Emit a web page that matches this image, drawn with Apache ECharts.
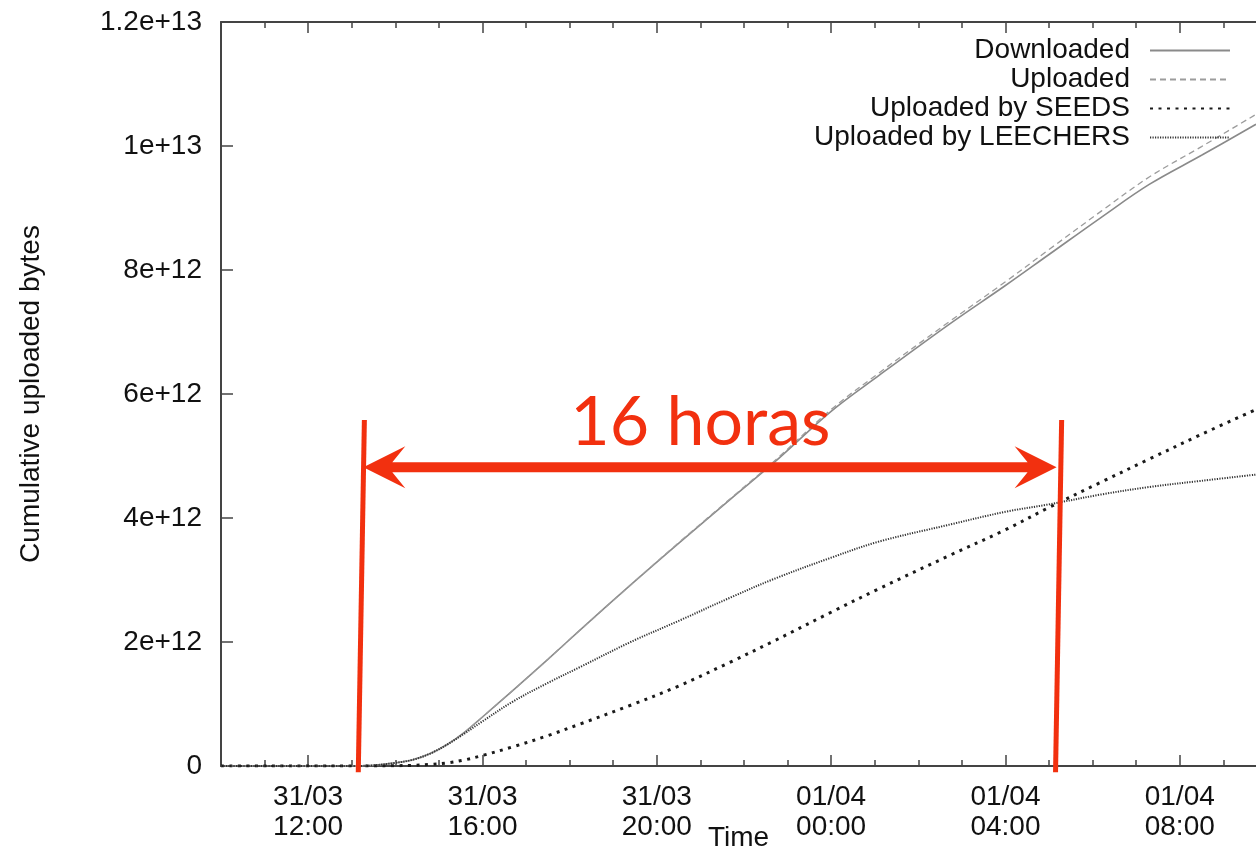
<!DOCTYPE html>
<html>
<head>
<meta charset="utf-8">
<title>Cumulative uploaded bytes</title>
<script src="https://cdn.jsdelivr.net/npm/echarts@6/dist/echarts.min.js"></script>
<style>
  html, body { margin: 0; padding: 0; background: #ffffff; }
  #chart { width: 1256px; height: 852px; }
</style>
</head>
<body>
<div id="chart"></div>
<script>
// Time is measured in hours since 31/03 00:00.
const hours = [10, 13, 13.5, 14, 14.4, 14.8, 15.2, 15.6, 16, 16.7, 17.5, 18.25, 19.4,
  20.5, 21.7, 22.7, 24, 25.1, 26.7, 28, 29, 30.2, 31.3, 32.5, 33.75];

// Cumulative bytes per series
const downloaded = [0, 0, 0.01e12, 0.05e12, 0.1e12, 0.2e12, 0.35e12, 0.55e12, 0.79e12, 1.22e12,
  1.72e12, 2.2e12, 2.92e12, 3.59e12, 4.31e12, 4.9e12, 5.72e12, 6.3e12, 7.12e12, 7.75e12,
  8.25e12, 8.85e12, 9.38e12, 9.85e12, 10.35e12];
const uploaded = [0, 0, 0.01e12, 0.05e12, 0.1e12, 0.2e12, 0.35e12, 0.55e12, 0.79e12, 1.22e12,
  1.72e12, 2.2e12, 2.92e12, 3.6e12, 4.32e12, 4.92e12, 5.75e12, 6.34e12, 7.16e12, 7.81e12,
  8.33e12, 8.95e12, 9.5e12, 9.99e12, 10.51e12];
const uploadedBySeeds = [0, 0, 0, 0.005e12, 0.01e12, 0.025e12, 0.05e12, 0.1e12, 0.17e12, 0.31e12,
  0.49e12, 0.68e12, 0.98e12, 1.29e12, 1.68e12, 2.02e12, 2.48e12, 2.86e12, 3.39e12, 3.81e12,
  4.17e12, 4.58e12, 4.95e12, 5.35e12, 5.75e12];
const uploadedByLeechers = [0, 0, 0.01e12, 0.05e12, 0.1e12, 0.2e12, 0.35e12, 0.53e12, 0.72e12, 1.04e12,
  1.34e12, 1.6e12, 2.0e12, 2.34e12, 2.72e12, 3.02e12, 3.36e12, 3.62e12, 3.89e12, 4.1e12,
  4.22e12, 4.38e12, 4.5e12, 4.6e12, 4.7e12];

const seriesNames = ['Downloaded', 'Uploaded', 'Uploaded by SEEDS', 'Uploaded by LEECHERS'];

// Axis ticks and labels
const xMin = 10, xMax = 33.75;
const majorHours = [12, 16, 20, 24, 28, 32];
const xTickLabels = ['31/03\n12:00', '31/03\n16:00', '31/03\n20:00', '01/04\n00:00', '01/04\n04:00', '01/04\n08:00'];
const minorHours = [11, 13, 14, 15, 17, 18, 19, 21, 22, 23, 25, 26, 27, 29, 30, 31, 33];
const yTickValues = [0, 2e12, 4e12, 6e12, 8e12, 1e13, 1.2e13];
const yTickLabels = ['0', '2e+12', '4e+12', '6e+12', '8e+12', '1e+13', '1.2e+13'];

// Annotation: span between two moments, in hours
const spanStart = 13.22;
const spanHours = 16;
const spanTopValue = 5.58e12;
const spanBottomValue = -0.1e12;
const spanArrowValue = 4.82e12;
const spanLabelHour = 21.0;

const FONT = '"Liberation Sans", Arial, Helvetica, sans-serif';
const AXIS_COLOR = '#444';
const RED = '#f2300f';

const pair = (xs, ys) => xs.map((x, i) => [x, ys[i]]);

const chart = echarts.init(document.getElementById('chart'), null, { renderer: 'canvas' });

function xAxisDef(position, ticks, len, extra) {
  return Object.assign({
    type: 'value', min: xMin, max: xMax, position: position,
    axisLine: { show: false },
    axisTick: { show: true, inside: true, length: len, customValues: ticks,
      lineStyle: { color: AXIS_COLOR, width: 1.5 } },
    axisLabel: { show: false },
    splitLine: { show: false }
  }, extra || {});
}

function lineSeries(name, values, color, width, type) {
  return {
    name: name, type: 'line', xAxisIndex: 0, showSymbol: false, symbol: 'none',
    smooth: 0.35,
    data: pair(hours, values),
    lineStyle: { color: color, width: width, type: type },
    itemStyle: { color: color }
  };
}

const option = {
  backgroundColor: '#ffffff',
  animation: false,
  grid: { left: 221, top: 22, right: 0, bottom: 86, containLabel: false, outerBoundsMode: 'none' },
  legend: {
    show: true,
    orient: 'vertical',
    align: 'right',
    right: 20,
    top: 31,
    itemWidth: 80,
    itemHeight: 14,
    itemGap: 0,
    selectedMode: false,
    data: seriesNames,
    itemStyle: { opacity: 0 },
    textStyle: { fontFamily: FONT, fontSize: 28, color: '#111', lineHeight: 29, padding: [0, 15, 0, 0] }
  },
  xAxis: [
    xAxisDef('bottom', majorHours, 11, {
      name: 'Time',
      nameLocation: 'middle',
      nameGap: 58,
      nameMoveOverlap: false,
      nameTextStyle: { fontFamily: FONT, fontSize: 28, color: '#111' },
      axisLine: { show: true, onZero: false, lineStyle: { color: AXIS_COLOR, width: 2 } },
      axisLabel: {
        show: true, customValues: majorHours, margin: 16,
        fontFamily: FONT, fontSize: 28, color: '#111', lineHeight: 30,
        formatter: (v) => xTickLabels[majorHours.indexOf(v)]
      }
    }),
    xAxisDef('bottom', minorHours, 6),
    xAxisDef('top', majorHours, 11, {
      axisLine: { show: true, onZero: false, lineStyle: { color: AXIS_COLOR, width: 2 } }
    }),
    xAxisDef('top', minorHours, 6)
  ],
  yAxis: {
    type: 'value', min: 0, max: 1.2e13, interval: 2e12,
    name: 'Cumulative uploaded bytes',
    nameLocation: 'middle',
    nameGap: 176,
    nameMoveOverlap: false,
    nameTextStyle: { fontFamily: FONT, fontSize: 28, color: '#111' },
    axisLine: { show: true, onZero: false, lineStyle: { color: AXIS_COLOR, width: 2 } },
    axisTick: { show: true, inside: true, length: 12, lineStyle: { color: AXIS_COLOR, width: 1.5 } },
    axisLabel: {
      margin: 19, fontFamily: FONT, fontSize: 28, color: '#111',
      formatter: (v) => yTickLabels[yTickValues.indexOf(v)]
    },
    splitLine: { show: false }
  },
  series: [
    lineSeries(seriesNames[0], downloaded, '#8a8a8a', 1.6, 'solid'),
    lineSeries(seriesNames[1], uploaded, '#9c9c9c', 1.3, [6, 4]),
    lineSeries(seriesNames[2], uploadedBySeeds, '#1a1a1a', 3, [3, 5.5]),
    lineSeries(seriesNames[3], uploadedByLeechers, '#333333', 2, [1.2, 1.3])
  ]
};

chart.setOption(option);

// Red annotation: two markers and a double arrow spanning spanHours
function drawSpan() {
  const toPx = (h, v) => chart.convertToPixel({ gridIndex: 0 }, [h, v]);
  const spanEnd = spanStart + spanHours;
  const slant = 0.07;
  const lb = toPx(spanStart - slant, spanBottomValue), lt = toPx(spanStart + slant, spanTopValue);
  const rb = toPx(spanEnd - slant, spanBottomValue), rt = toPx(spanEnd + slant, spanTopValue);
  const L = toPx(spanStart, spanArrowValue), R = toPx(spanEnd, spanArrowValue);
  const labelPos = toPx(spanLabelHour, spanArrowValue);
  const y = L[1];
  const headLen = 42, headHalf = 21, notch = 29, shaftHalf = 5;
  const xl = L[0] + 2, xr = R[0] - 2;
  const arrow = [
    [xl, y], [xl + headLen, y - headHalf], [xl + notch, y - shaftHalf],
    [xr - notch, y - shaftHalf], [xr - headLen, y - headHalf], [xr, y],
    [xr - headLen, y + headHalf], [xr - notch, y + shaftHalf],
    [xl + notch, y + shaftHalf], [xl + headLen, y + headHalf]
  ];
  chart.setOption({
    graphic: [
      { type: 'line', z: 100, shape: { x1: lb[0], y1: lb[1], x2: lt[0], y2: lt[1] },
        style: { stroke: RED, lineWidth: 5 } },
      { type: 'line', z: 100, shape: { x1: rb[0], y1: rb[1], x2: rt[0], y2: rt[1] },
        style: { stroke: RED, lineWidth: 5 } },
      { type: 'polygon', z: 100, shape: { points: arrow }, style: { fill: RED } },
      { type: 'text', z: 100, x: labelPos[0], y: y - 10,
        style: { text: spanHours + ' horas', fill: RED, font: '400 68px Lato, "Open Sans", sans-serif',
          align: 'center', verticalAlign: 'bottom' } }
    ]
  });
}
drawSpan();
</script>
</body>
</html>
